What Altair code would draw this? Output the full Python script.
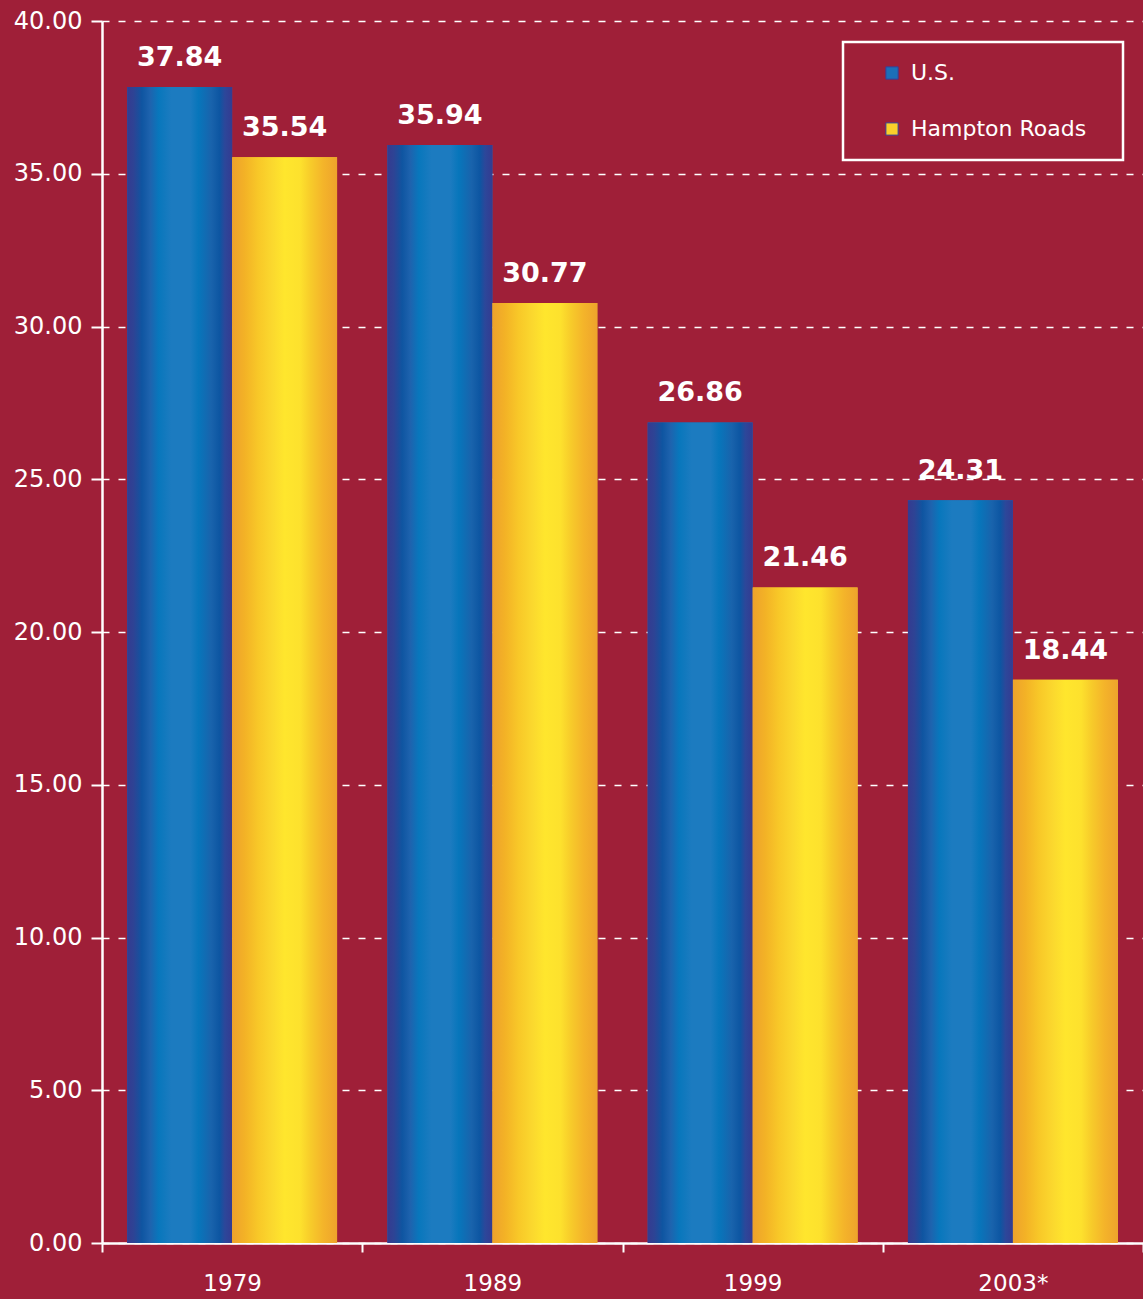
import altair as alt
import pandas as pd

years = ["1979", "1989", "1999", "2003*"]
series = ["U.S.", "Hampton Roads"]
us_values = [37.84, 35.94, 26.86, 24.31]
hr_values = [35.54, 30.77, 21.46, 18.44]
y_ticks = [0, 5, 10, 15, 20, 25, 30, 35, 40]

rows = []
for i, y in enumerate(years):
    rows.append({"year": y, "series": "U.S.", "value": us_values[i]})
    rows.append({"year": y, "series": "Hampton Roads", "value": hr_values[i]})
df = pd.DataFrame(rows)

BG = "#9F1F38"
FONT = "DejaVu Sans"

blue_grad = {
    "gradient": "linear", "x1": 0, "x2": 1, "y1": 0, "y2": 0,
    "stops": [
        {"offset": 0.0, "color": "#343B91"},
        {"offset": 0.06, "color": "#2E4394"},
        {"offset": 0.14, "color": "#0F55A1"},
        {"offset": 0.22, "color": "#1E63AE"},
        {"offset": 0.30, "color": "#0877BC"},
        {"offset": 0.42, "color": "#1C7BC0"},
        {"offset": 0.60, "color": "#1C7BC0"},
        {"offset": 0.68, "color": "#0776BB"},
        {"offset": 0.80, "color": "#1963AC"},
        {"offset": 0.88, "color": "#0D56A2"},
        {"offset": 0.93, "color": "#2C479A"},
        {"offset": 1.0, "color": "#343B91"},
    ],
}
yellow_grad = {
    "gradient": "linear", "x1": 0, "x2": 1, "y1": 0, "y2": 0,
    "stops": [
        {"offset": 0.0, "color": "#EEA22C"},
        {"offset": 0.12, "color": "#F3B226"},
        {"offset": 0.25, "color": "#F8C828"},
        {"offset": 0.38, "color": "#FBD82E"},
        {"offset": 0.50, "color": "#FFE62D"},
        {"offset": 0.65, "color": "#FDE12D"},
        {"offset": 0.75, "color": "#F7CB2A"},
        {"offset": 0.87, "color": "#F4B42A"},
        {"offset": 1.0, "color": "#EEA32C"},
    ],
}

x_enc = alt.X(
    "year:N", sort=years, title=None,
    scale=alt.Scale(paddingInner=0, paddingOuter=0),
    axis=alt.Axis(labelAngle=0, tickBand="extent", tickSize=9, labelPadding=20,
                  labelFontSize=23, grid=False),
)
xo_enc = alt.XOffset("series:N", sort=series,
                     scale=alt.Scale(domain=series, paddingInner=0, paddingOuter=0.24))
y_enc = alt.Y(
    "value:Q", title=None,
    scale=alt.Scale(domain=[0, 40], nice=False, zero=True),
    axis=alt.Axis(values=y_ticks, format=".2f", tickSize=11, labelPadding=9,
                  labelFontSize=24, grid=True),
)

base = alt.Chart(df)

legend_bars = base.mark_bar().encode(
    x=x_enc, xOffset=xo_enc, y=y_enc,
    color=alt.Color(
        "series:N", sort=series,
        scale=alt.Scale(domain=series, range=["#1C6FB8", "#F9CF2A"]),
        legend=alt.Legend(
            title=None, orient="none", legendX=741, legendY=21,
            labelExpr="datum.label + '\\u2800'", labelLimit=400,
            symbolType="square", symbolSize=150, symbolOffset=18,
            symbolStrokeColor="#34409A", symbolStrokeWidth=1,
            labelOffset=8, rowPadding=34, padding=20,
            strokeColor="white",
            labelColor="white", labelFontSize=22, labelFont=FONT,
        ),
    ),
)

us_bars = base.transform_filter(alt.datum.series == "U.S.").mark_bar(
    color=blue_grad
).encode(x=x_enc, xOffset=xo_enc, y=y_enc)

hr_bars = base.transform_filter(alt.datum.series == "Hampton Roads").mark_bar(
    color=yellow_grad
).encode(x=x_enc, xOffset=xo_enc, y=y_enc)

labels = base.mark_text(
    color="white", font=FONT, fontWeight="bold", fontSize=27,
    baseline="alphabetic", dy=-21,
).encode(
    x=x_enc, xOffset=xo_enc, y=y_enc,
    text=alt.Text("value:Q", format=".2f"),
)

chart = alt.layer(legend_bars, us_bars, hr_bars, labels).properties(
    width=1041, height=1222,
    autosize="none",
    padding={"left": 102, "top": 21, "right": 0, "bottom": 56},
    background=BG,
).configure_view(stroke=None, fill=None).configure_axis(
    domainColor="white", domainWidth=2.5, tickColor="white", tickWidth=2,
    labelColor="white", labelFont=FONT, labelFontWeight="normal",
    gridColor="white", gridDash=[7, 9], gridWidth=1.3, gridOpacity=1,
).configure_legend(strokeWidth=2.5)

chart.save("out.html", embed_options={"renderer": "svg", "actions": False})
